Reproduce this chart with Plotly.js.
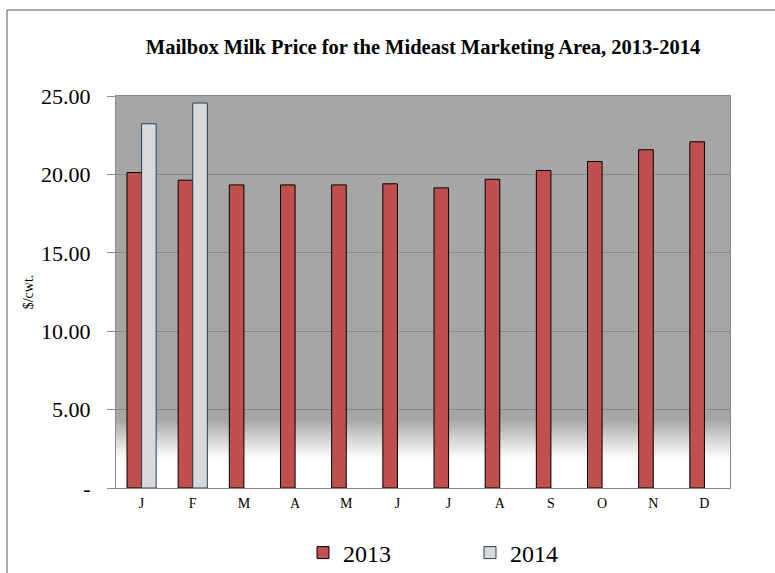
<!DOCTYPE html>
<html>
<head>
<meta charset="utf-8">
<script src="https://cdn.plot.ly/plotly-3.0.1.min.js"></script>
<style>
html,body{margin:0;padding:0;background:#fff;}
#chart{width:775px;height:573px;}
</style>
</head>
<body>
<div id="chart"></div>
<script>
const months = ["J","F","M","A","M","J","J","A","S","O","N","D"];
const monthKeys = ["Jan","Feb","Mar","Apr","May","Jun","Jul","Aug","Sep","Oct","Nov","Dec"];
const price2013 = [20.12, 19.63, 19.33, 19.33, 19.33, 19.40, 19.14, 19.69, 20.25, 20.82, 21.57, 22.08];
const price2014 = [23.23, 24.55];
const yTickVals = [0, 5, 10, 15, 20, 25];
const yTickText = ["-", "5.00", "10.00", "15.00", "20.00", "25.00"];

// gradient background image for plot area
function gradientURL() {
  const c = document.createElement("canvas");
  c.width = 4; c.height = 400;
  const g = c.getContext("2d");
  const grd = g.createLinearGradient(0, 0, 0, 400);
  grd.addColorStop(0, "#a6a6a6");
  grd.addColorStop(0.825, "#a6a6a6");
  grd.addColorStop(0.87, "#d0d0d0");
  grd.addColorStop(0.925, "#ffffff");
  grd.addColorStop(1, "#ffffff");
  g.fillStyle = grd;
  g.fillRect(0, 0, 4, 400);
  return c.toDataURL();
}

const traces = [
  {
    type: "bar", name: "2013",
    x: monthKeys, y: price2013,
    marker: {color: "#c0504d", line: {color: "#000000", width: 1}}
  },
  {
    type: "bar", name: "2014",
    x: monthKeys.slice(0, price2014.length), y: price2014,
    marker: {color: "#d9d9d9", line: {color: "#243f60", width: 1}}
  }
];

const layout = {
  width: 775, height: 573,
  margin: {l: 116, r: 45, t: 96, b: 85, autoexpand: false},
  paper_bgcolor: "#ffffff",
  plot_bgcolor: "rgba(0,0,0,0)",
  font: {family: "Liberation Serif, Times New Roman, serif", color: "#000"},
  title: {
    text: "<b>Mailbox Milk Price for the Mideast Marketing Area, 2013-2014</b>",
    font: {family: "Liberation Serif, Times New Roman, serif", size: 20.5, color: "#000"},
    x: 0.5, xref: "paper", y: 1 - 47/573, yanchor: "middle"
  },
  barmode: "group",
  bargap: 0.43,
  bargroupgap: 0,
  xaxis: {
    type: "category",
    tickvals: monthKeys, ticktext: months,
    ticks: "outside", ticklen: 2, tickcolor: "rgba(0,0,0,0)",
    tickfont: {size: 14},
    showline: true, linecolor: "#888888", linewidth: 1, mirror: true,
    showgrid: false, zeroline: false, fixedrange: true
  },
  yaxis: {
    range: [0, 25],
    tickvals: yTickVals, ticktext: yTickText,
    ticks: "outside", ticklen: 8, tickcolor: "#888888",
    ticklabelstandoff: 12,
    tickfont: {size: 22},
    showline: true, linecolor: "#888888", linewidth: 1, mirror: true,
    showgrid: true, gridcolor: "#888888", gridwidth: 1,
    zeroline: false,
    title: {text: "$/cwt.", font: {size: 14}, standoff: 4}
  },
  showlegend: true,
  legend: {
    orientation: "h", x: (303 - 116) / 614, xanchor: "left", xref: "paper",
    y: 1 - 553/573, yref: "container", yanchor: "middle",
    font: {size: 24}, itemwidth: 30, traceorder: "normal",
    entrywidth: 122, entrywidthmode: "pixels",
    tracegroupgap: 0, bgcolor: "rgba(0,0,0,0)"
  },
  images: [{
    source: gradientURL(), xref: "paper", yref: "paper",
    x: 0, y: 1, sizex: 1, sizey: 1, sizing: "stretch",
    xanchor: "left", yanchor: "top", layer: "below"
  }],
  shapes: [{
    type: "rect", xref: "paper", yref: "paper",
    x0: (7 - 116) / 614, x1: (790 - 116) / 614,
    y0: (488 - 590) / 392, y1: (488 - 10) / 392,
    line: {color: "#555555", width: 1}, fillcolor: "rgba(0,0,0,0)", layer: "below"
  }]
};

Plotly.newPlot("chart", traces, layout, {displayModeBar: false, staticPlot: true});
</script>
</body>
</html>
